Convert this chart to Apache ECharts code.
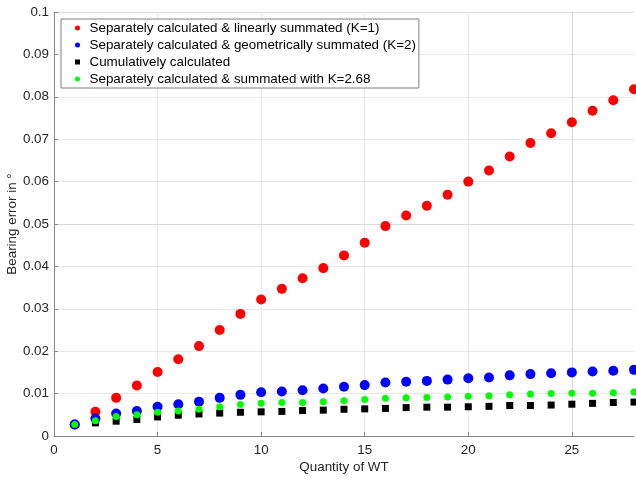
<!DOCTYPE html>
<html>
<head>
<meta charset="utf-8">
<script src="https://cdn.jsdelivr.net/npm/echarts@6/dist/echarts.min.js"></script>
<style>html,body{margin:0;padding:0;background:#fff}#c{width:636px;height:479px}</style>
</head>
<body>
<div id="c"></div>
<script>
var quantities = [1,2,3,4,5,6,7,8,9,10,11,12,13,14,15,16,17,18,19,20,21,22,23,24,25,26,27,28];
var linearK1 = [0.0027,0.0057,0.0090,0.0119,0.0151,0.0181,0.0212,0.0250,0.0288,0.0322,0.0347,0.0372,0.0396,0.0426,0.0456,0.0495,0.0520,0.0543,0.0569,0.0600,0.0626,0.0659,0.0691,0.0714,0.0740,0.0767,0.0792,0.0818];
var geometricK2 = [0.0027,0.0041,0.0053,0.0059,0.0069,0.0075,0.0081,0.0090,0.0097,0.0103,0.0105,0.0108,0.0112,0.0116,0.0120,0.0126,0.0128,0.0130,0.0133,0.0136,0.0138,0.0143,0.0146,0.0148,0.0150,0.0152,0.0154,0.0156];
var cumulative = [0.0027,0.0031,0.0035,0.0039,0.0045,0.0049,0.0052,0.0054,0.0056,0.0057,0.0058,0.0060,0.0061,0.0063,0.0064,0.0065,0.0067,0.0068,0.0068,0.0069,0.0070,0.0072,0.0072,0.0073,0.0075,0.0077,0.0079,0.0080];
var k268 = [0.0027,0.0036,0.0046,0.0050,0.0056,0.0059,0.0063,0.0069,0.0074,0.0077,0.0079,0.0079,0.0081,0.0083,0.0086,0.0089,0.0090,0.0091,0.0092,0.0094,0.0095,0.0097,0.0099,0.0100,0.0101,0.0101,0.0102,0.0104];
var seriesNames = [
  'Separately calculated & linearly summated (K=1)',
  'Separately calculated & geometrically summated (K=2)',
  'Cumulatively calculated',
  'Separately calculated & summated with K=2.68'
];
var xTickLabels = [0,5,10,15,20,25];
var yTickLabels = [0,0.01,0.02,0.03,0.04,0.05,0.06,0.07,0.08,0.09,0.1];

function pairs(vals){ return quantities.map(function(q,i){ return [q, vals[i]]; }); }

var FONT = '"Liberation Sans", Arial, Helvetica, sans-serif';
var FS = 13.4;
var chart = echarts.init(document.getElementById('c'), null, {renderer:'canvas'});
chart.setOption({
  animation: false,
  backgroundColor: '#ffffff',
  textStyle: {fontFamily: FONT},
  grid: {left: 54, right: 2, top: 12, bottom: 43, containLabel: false, outerBoundsMode: 'none'},
  legend: {
    orient: 'vertical',
    left: 61, top: 19,
    padding: [2, 3, 2, 14],
    itemWidth: 14, itemHeight: 5,
    itemGap: 3,
    backgroundColor: '#ffffff',
    borderColor: '#7f7f7f', borderWidth: 1,
    textStyle: {fontFamily: FONT, fontSize: FS, color: '#000', lineHeight: 14},
    data: [
      {name: seriesNames[0]},
      {name: seriesNames[1]},
      {name: seriesNames[2], icon: 'path://M0,0L1,0L1,1L0,1Z'},
      {name: seriesNames[3]}
    ]
  },
  xAxis: {
    type: 'value', min: 0, max: 28, interval: 1,
    name: 'Quantity of WT', nameLocation: 'middle', nameGap: 25, nameMoveOverlap: false,
    nameTextStyle: {fontFamily: FONT, fontSize: FS, color: '#262626'},
    axisLine: {show: true, onZero: false, lineStyle: {color: '#8a8a8a', width: 1}},
    axisTick: {show: true, inside: true, length: 4, customValues: xTickLabels, lineStyle: {color: '#8a8a8a'}},
    axisLabel: {show: true, customValues: xTickLabels, margin: 8, fontFamily: FONT, fontSize: FS, color: '#262626'},
    splitLine: {show: true, lineStyle: {color: ['#d9d9d9','#e8e8e8','#e8e8e8','#e8e8e8','#e8e8e8'], width: 1}}
  },
  yAxis: {
    type: 'value', min: 0, max: 0.1, interval: 0.002,
    name: 'Bearing error in °', nameLocation: 'middle', nameGap: 35, nameMoveOverlap: false,
    nameTextStyle: {fontFamily: FONT, fontSize: FS, color: '#262626'},
    axisLine: {show: true, onZero: false, lineStyle: {color: '#8a8a8a', width: 1}},
    axisTick: {show: true, inside: true, length: 4, customValues: yTickLabels, lineStyle: {color: '#8a8a8a'}},
    axisLabel: {show: true, customValues: yTickLabels, margin: 5, fontFamily: FONT, fontSize: FS, color: '#262626'},
    splitLine: {show: true, lineStyle: {color: ['#d9d9d9','#e8e8e8','#e8e8e8','#e8e8e8','#e8e8e8'], width: 1}}
  },
  series: [
    {name: seriesNames[0], type: 'scatter', symbol: 'circle', symbolSize: 10, itemStyle: {color: '#ff0000', opacity: 1}, data: pairs(linearK1), z: 2},
    {name: seriesNames[1], type: 'scatter', symbol: 'circle', symbolSize: 10, itemStyle: {color: '#0000ff', opacity: 1}, data: pairs(geometricK2), z: 3},
    {name: seriesNames[2], type: 'scatter', symbol: 'rect', symbolSize: 7, itemStyle: {color: '#000000', opacity: 1}, data: pairs(cumulative), z: 4},
    {name: seriesNames[3], type: 'scatter', symbol: 'circle', symbolSize: 7, itemStyle: {color: '#00ff00', opacity: 1}, data: pairs(k268), z: 5}
  ]
});
</script>
</body>
</html>
